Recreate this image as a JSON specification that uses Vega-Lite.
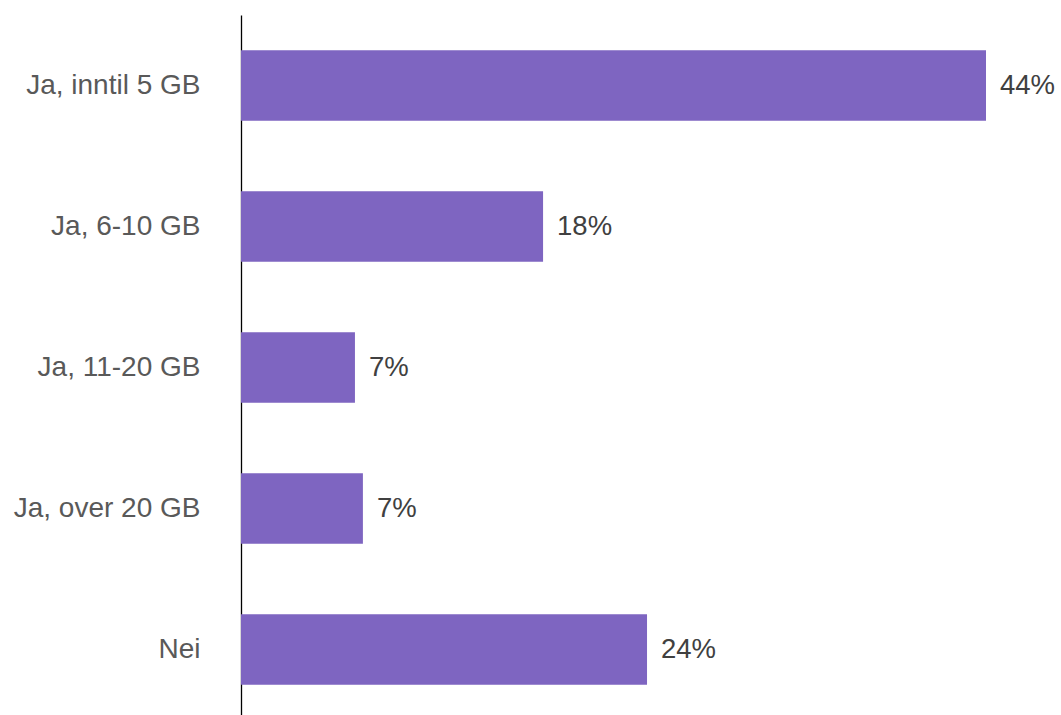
{
  "$schema": "https://vega.github.io/schema/vega-lite/v6.json",
  "autosize": "none",
  "width": 745,
  "height": 705,
  "padding": {"left": 241, "top": 15, "right": 75, "bottom": 0},
  "background": "white",
  "config": {"view": {"stroke": null}, "font": "Liberation Sans"},
  "data": {
    "values": [
      {"svar": "Ja, inntil 5 GB", "andel": 44.0, "label": "44%"},
      {"svar": "Ja, 6-10 GB", "andel": 17.84, "label": "18%"},
      {"svar": "Ja, 11-20 GB", "andel": 6.73, "label": "7%"},
      {"svar": "Ja, over 20 GB", "andel": 7.2, "label": "7%"},
      {"svar": "Nei", "andel": 23.98, "label": "24%"}
    ]
  },
  "encoding": {
    "y": {
      "field": "svar",
      "type": "nominal",
      "sort": null,
      "scale": {"paddingInner": 0.5, "paddingOuter": 0.25},
      "axis": {
        "title": null,
        "ticks": false,
        "labelFontSize": 28,
        "labelColor": "#595959",
        "labelPadding": 41,
        "labelLimit": 0,
        "domainColor": "#000000",
        "domainWidth": 1.3,
        "labelFont": "Liberation Sans"
      }
    },
    "x": {
      "field": "andel",
      "type": "quantitative",
      "scale": {"domain": [0, 44], "nice": false, "zero": true},
      "axis": null
    }
  },
  "layer": [
    {"mark": {"type": "bar", "color": "#7E65C1"}},
    {
      "mark": {"type": "text", "align": "left", "baseline": "middle", "dx": 14, "fontSize": 27.5, "color": "#404040", "font": "Liberation Sans", "clip": false},
      "encoding": {"text": {"field": "label"}}
    }
  ]
}
